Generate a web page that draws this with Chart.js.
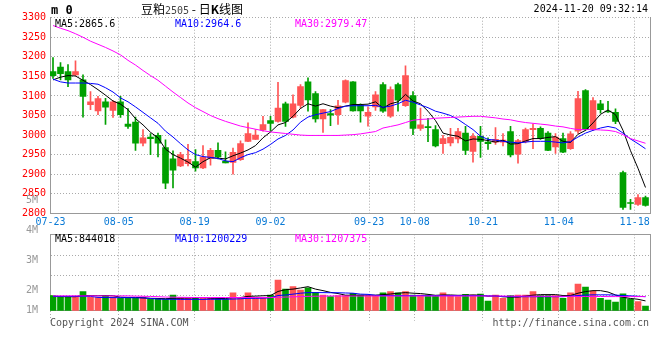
<!DOCTYPE html>
<html><head><meta charset="utf-8">
<script src="https://cdn.jsdelivr.net/npm/chart.js@4.4.1/dist/chart.umd.min.js"></script>
<style>
html,body{margin:0;padding:0;background:#fff;}
#wrap{position:relative;width:660px;height:360px;overflow:hidden;font-family:'DejaVu Sans Mono',monospace;font-size:10px;color:#000;}
canvas{position:absolute;left:0;}
#c1{top:0;} #c2{top:190px;}
.t{position:absolute;white-space:nowrap;line-height:12px;z-index:5;}
</style></head><body>
<div id="wrap">
<canvas id="c1" width="660" height="232"></canvas>
<canvas id="c2" width="660" height="170"></canvas>
<div class="t" style="left:51px;top:3px;font-weight:bold;font-size:12px;line-height:14px">m 0</div>
<div class="t" style="left:141px;top:1px;line-height:16px"><span style="font-family:'Noto Sans CJK SC';font-size:12px">豆粕</span><span style="font-size:10px;color:#444">2505</span><span style="font-family:'Noto Sans CJK SC';font-size:12px"> - 日<b>K</b>线图</span></div>
<div class="t" style="right:12px;top:3px;font-size:10px">2024-11-20 09:32:14</div>
<div class="t" style="left:55px;top:18px;color:#000">MA5:2865.6</div>
<div class="t" style="left:175px;top:18px;color:#0000ff">MA10:2964.6</div>
<div class="t" style="left:295px;top:18px;color:#ff00ff">MA30:2979.47</div>
<div class="t" style="left:55px;top:233px;color:#000">MA5:844018</div>
<div class="t" style="left:175px;top:233px;color:#0000ff">MA10:1200229</div>
<div class="t" style="left:295px;top:233px;color:#ff00ff">MA30:1207375</div>
<div class="t" style="left:50px;top:317px;color:#555">Copyright 2024 SINA.COM</div>
<div class="t" style="right:11px;top:317px;color:#555">http://finance.sina.com.cn</div>
</div>
<script>
// ---- data ----
const dateTicks   = ['07-23','08-05','08-19','09-02','09-23','10-08','10-21','11-04','11-18'];
const dateTickIdx = [0, 9, 19, 29, 42, 48, 57, 67, 77];

const opens  = [3162,3174,3162,3154,3141,3078,3062,3085,3063,3085, 3028,3033,2979,2995,2999,2968,2939,2921,2927,2932,
                2916,2940,2961,2933,2930,2937,2984,2989,3013,3037, 3035,3080,3046,3076,3136,3106,3041,3055,3052,3084,
                3136,3076,3048,3072,3129,3048,3129,3075,3101,3017, 3021,3014,2978,2980,2990,3005,2958,2997,2982,2982,
                2982,3009,2951,2983,3014,3017,3005,2970,2991,2965, 3010,3114,3016,3080,3061,3058,2904,2826,2823,2840];
const highs  = [3198,3185,3180,3190,3154,3111,3099,3094,3088,3099, 3068,3046,3014,3004,3005,2988,2960,2956,2976,2963,
                2973,2966,2980,2957,2967,2985,3031,3014,3048,3048, 3135,3084,3103,3129,3146,3111,3065,3065,3089,3141,
                3137,3080,3072,3111,3134,3123,3133,3177,3111,3069, 3043,3024,2999,3017,3017,3022,3004,3022,2993,3019,
                3004,3022,2989,3018,3028,3021,3009,3004,3005,3009, 3112,3116,3096,3089,3086,3067,2908,2836,2848,2844];
const lows   = [3145,3141,3124,3152,3046,3065,3052,3027,3045,3045, 3017,2961,2972,2950,2944,2863,2865,2919,2921,2908,
                2914,2923,2939,2929,2900,2935,2983,2989,3010,3010, 3033,3022,3044,3068,3061,3033,3007,3024,3027,3082,
                3061,3033,3023,3063,3058,3045,3061,3073,3001,3012, 2983,2970,2953,2972,2980,2950,2931,2943,2963,2976,
                2972,2944,2928,2980,2965,2989,2960,2953,2955,2963, 3004,3012,3012,3056,3058,3029,2810,2810,2820,2818];
const closes = [3152,3157,3141,3162,3099,3085,3093,3071,3085,3052, 3022,2979,2993,2991,2979,2877,2910,2950,2938,2916,
                2944,2961,2944,2929,2956,2978,3004,3000,3027,3030, 3069,3035,3080,3124,3090,3041,3065,3051,3075,3139,
                3062,3062,3058,3103,3061,3116,3089,3152,3017,3026, 3019,2972,2991,2994,3009,2961,2997,2984,2978,2989,
                2987,2949,2986,3014,3017,2991,2961,2995,2956,3003, 3093,3014,3088,3065,3059,3035,2815,2825,2840,2820];

const ma5  = [3141,3148,3152,3151,3140,3129,3116,3102,3087,3079, 3065,3042,3026,3007,2993,2964,2950,2941,2931,2918,
              2932,2942,2941,2939,2947,2954,2962,2973,2993,3008, 3026,3032,3048,3068,3080,3074,3080,3074,3070,3074,
              3078,3078,3079,3085,3069,3080,3085,3104,3087,3080, 3061,3037,3005,3000,2997,2985,2990,2989,2986,2982,
              2987,2977,2978,2985,2991,2991,2994,2996,2984,2981, 3002,3012,3031,3053,3064,3052,3012,2960,2915,2866];
const ma10 = [3143,3136,3133,3133,3133,3132,3130,3121,3110,3095, 3085,3072,3058,3044,3030,3010,2995,2978,2962,2950,
              2945,2943,2940,2934,2932,2942,2950,2955,2964,2976, 2990,2999,3013,3033,3046,3052,3056,3060,3068,3074,
              3075,3075,3075,3076,3071,3074,3080,3089,3084,3077, 3070,3061,3056,3050,3040,3027,3014,2997,2989,2987,
              2984,2982,2980,2982,2984,2984,2984,2982,2980,2983, 2995,3005,3012,3018,3022,3018,3005,2990,2978,2965];
const ma30 = [3280,3273,3267,3259,3250,3240,3232,3224,3215,3205, 3191,3179,3165,3152,3140,3125,3110,3096,3082,3070,
              3060,3050,3042,3035,3029,3023,3019,3015,3011,3008, 3006,3004,3002,3000,2999,2999,2999,2999,2999,3000,
              3001,3003,3006,3009,3018,3022,3026,3032,3038,3040, 3041,3043,3044,3045,3046,3047,3048,3048,3046,3044,
              3041,3039,3035,3032,3030,3028,3026,3023,3021,3017, 3014,3014,3014,3013,3012,3009,3001,2991,2985,2979];

// volume in millions of lots
const volumes = [1.29,1.20,1.20,1.26,1.63,1.17,1.12,1.29,1.17,1.06, 1.06,1.06,1.17,0.97,0.97,0.97,1.34,1.12,1.06,1.06,
                 1.06,1.06,1.00,1.00,1.54,1.06,1.54,1.12,1.12,1.34, 2.63,1.86,2.06,1.77,1.97,1.57,1.34,1.20,1.29,1.29,
                 1.49,1.34,1.26,1.26,1.54,1.63,1.54,1.63,1.34,1.34, 1.34,1.26,1.54,1.26,1.20,1.40,1.34,1.43,0.83,1.34,
                 1.06,1.29,1.34,1.34,1.63,1.29,1.29,1.29,1.06,1.54, 2.29,2.03,1.69,1.06,0.91,0.74,1.45,1.00,0.78,0.40];
const volMa5  = [1.22,1.21,1.20,1.20,1.30,1.29,1.28,1.30,1.28,1.16, 1.14,1.14,1.10,1.06,1.05,1.03,1.06,1.07,1.09,1.10,
                 1.13,1.07,1.05,1.04,1.13,1.13,1.23,1.25,1.28,1.30, 1.65,1.80,1.85,1.95,2.06,1.85,1.72,1.57,1.47,1.33,
                 1.32,1.33,1.33,1.33,1.38,1.43,1.50,1.55,1.50,1.47, 1.40,1.32,1.35,1.35,1.32,1.33,1.35,1.33,1.24,1.27,
                 1.19,1.17,1.17,1.26,1.33,1.38,1.38,1.38,1.30,1.30, 1.50,1.64,1.72,1.72,1.60,1.35,1.15,1.05,0.98,0.84];
const volMa10 = [1.23,1.23,1.23,1.23,1.24,1.23,1.14,1.13,1.12,1.12, 1.12,1.11,1.10,1.05,1.00,0.98,0.98,0.97,0.97,0.97,
                 0.97,0.98,0.98,0.98,1.00,1.02,1.06,1.06,1.08,1.10, 1.30,1.35,1.42,1.50,1.55,1.55,1.55,1.54,1.54,1.52,
                 1.50,1.42,1.40,1.32,1.30,1.30,1.29,1.29,1.29,1.30, 1.29,1.29,1.29,1.29,1.29,1.29,1.29,1.29,1.27,1.25,
                 1.22,1.20,1.20,1.20,1.20,1.20,1.20,1.20,1.20,1.25, 1.30,1.34,1.36,1.36,1.36,1.34,1.30,1.27,1.24,1.20];
const volMa30 = [1.27,1.27,1.27,1.27,1.27,1.27,1.27,1.27,1.27,1.27, 1.27,1.25,1.24,1.22,1.20,1.17,1.16,1.15,1.14,1.13,
                 1.13,1.13,1.13,1.13,1.13,1.13,1.13,1.13,1.13,1.13, 1.15,1.17,1.19,1.21,1.23,1.24,1.25,1.26,1.26,1.26,
                 1.26,1.26,1.26,1.26,1.26,1.26,1.26,1.26,1.26,1.26, 1.26,1.26,1.26,1.26,1.26,1.26,1.26,1.26,1.26,1.26,
                 1.26,1.25,1.25,1.25,1.24,1.24,1.24,1.23,1.23,1.23, 1.22,1.22,1.22,1.22,1.21,1.21,1.21,1.21,1.21,1.21];
const volTickLabels = ['5M','4M','3M','2M','1M'];
const volTickValues = [5, 4, 3, 2, 1];

// ---- styling ----
const UP = '#FF5555', DOWN = '#00A000';
const GRID = '#aaaaaa', FRAME = '#999999';
const MONO = {family: "'DejaVu Sans Mono', monospace", size: 10};
const X_MIN = -0.4, X_MAX = 79.6, GRID_STRETCH = 1.0115, GRID_SHIFT = -0.33;
const candleColors = closes.map((c, i) => c >= opens[i] ? UP : DOWN);
const pts = arr => arr.map((v, i) => ({x: i, y: v}));
const gridTicks = s => { s.ticks = dateTickIdx.map(i => ({value: i * GRID_STRETCH + GRID_SHIFT})); };

Chart.defaults.animation = false;

const lineDs = (data, color, axis) => ({type: 'line', data: pts(data), borderColor: color, borderWidth: 1,
  pointRadius: 0, tension: 0, fill: false, order: 0, yAxisID: axis});

new Chart(document.getElementById('c1'), {
  type: 'bar',
  data: {datasets: [
    {data: lows.map((l, i) => ({x: i, y: [l, highs[i]]})), backgroundColor: candleColors, barThickness: 1, grouped: false, order: 3},
    {data: opens.map((o, i) => ({x: i, y: [o, closes[i]]})), backgroundColor: candleColors, barThickness: 6, minBarLength: 1, grouped: false, order: 2},
    lineDs(ma30, '#ff00ff', 'y'), lineDs(ma10, '#0000ff', 'y'), lineDs(ma5, '#000000', 'y')
  ]},
  options: {
    responsive: false, devicePixelRatio: 1,
    layout: {padding: {top: 17.7, right: 10, left: 0, bottom: 0}},
    plugins: {legend: {display: false}, tooltip: {enabled: false}},
    scales: {
      x: {type: 'linear', min: X_MIN, max: X_MAX, offset: false, afterBuildTicks: gridTicks,
          ticks: {callback: (v, i) => dateTicks[i], color: '#0A7AD6', font: MONO, maxRotation: 0, autoSkip: false, padding: 3},
          grid: {color: GRID, drawTicks: false, offset: false},
          border: {color: FRAME, dash: [1, 2]},
          afterFit: s => { s.height = 18.7; }},
      y: {type: 'linear', min: 2800, max: 3300, position: 'left',
          ticks: {stepSize: 50, callback: v => String(v), color: '#FF0000', font: MONO, padding: 4, autoSkip: false},
          grid: {color: GRID, drawTicks: false},
          border: {color: FRAME, dash: [1, 2]},
          afterFit: s => { s.width = 50; }},
      yr: {type: 'linear', min: 2800, max: 3300, position: 'right', ticks: {display: false}, grid: {display: false},
           border: {color: FRAME}, afterFit: s => { s.width = 0; }}
    }
  }
});

new Chart(document.getElementById('c2'), {
  type: 'bar',
  data: {datasets: [
    {data: pts(volumes), backgroundColor: candleColors, barThickness: 6, grouped: false, order: 2, yAxisID: 'y'},
    lineDs(volMa30, '#ff00ff', 'y'), lineDs(volMa10, '#0000ff', 'y'), lineDs(volMa5, '#000000', 'y')
  ]},
  options: {
    responsive: false, devicePixelRatio: 1,
    layout: {padding: {top: 44.3, right: 10, left: 0, bottom: 0}},
    plugins: {legend: {display: false}, tooltip: {enabled: false}},
    scales: {
      x: {type: 'linear', min: X_MIN, max: X_MAX, offset: false, afterBuildTicks: gridTicks,
          ticks: {display: false},
          grid: {color: GRID, drawTicks: true, tickLength: 10, tickColor: GRID, tickBorderDash: [1, 2], offset: false},
          border: {color: FRAME, dash: [1, 2]},
          afterFit: s => { s.height = 49.3; }},
      xt: {type: 'linear', position: 'top', min: X_MIN, max: X_MAX, ticks: {display: false}, grid: {display: false},
           border: {color: FRAME}, afterFit: s => { s.height = 0; }},
      y: {type: 'linear', min: 0, max: 6.55, position: 'left', weight: 0,
          afterBuildTicks: s => { s.ticks = [1.346, 3.06, 4.775].map(v => ({value: v})); },
          ticks: {display: false}, grid: {color: GRID, drawTicks: false},
          border: {color: FRAME, dash: [1, 2]}, afterFit: s => { s.width = 0; }},
      yl: {type: 'linear', min: 1.3333, max: 3.88, position: 'left', weight: 1,
           afterBuildTicks: s => { s.ticks = volTickValues.map(v => ({value: Math.max(v, s.min)})); },
           ticks: {callback: (v, i) => volTickLabels[i], color: '#999999', font: MONO, padding: 4, autoSkip: false},
           grid: {display: false}, border: {display: false}, afterFit: s => { s.width = 50; }},
      yr: {type: 'linear', min: 0, max: 6.55, position: 'right', ticks: {display: false}, grid: {display: false},
           border: {color: FRAME}, afterFit: s => { s.width = 0; }}
    }
  }
});
</script>
</body></html>
